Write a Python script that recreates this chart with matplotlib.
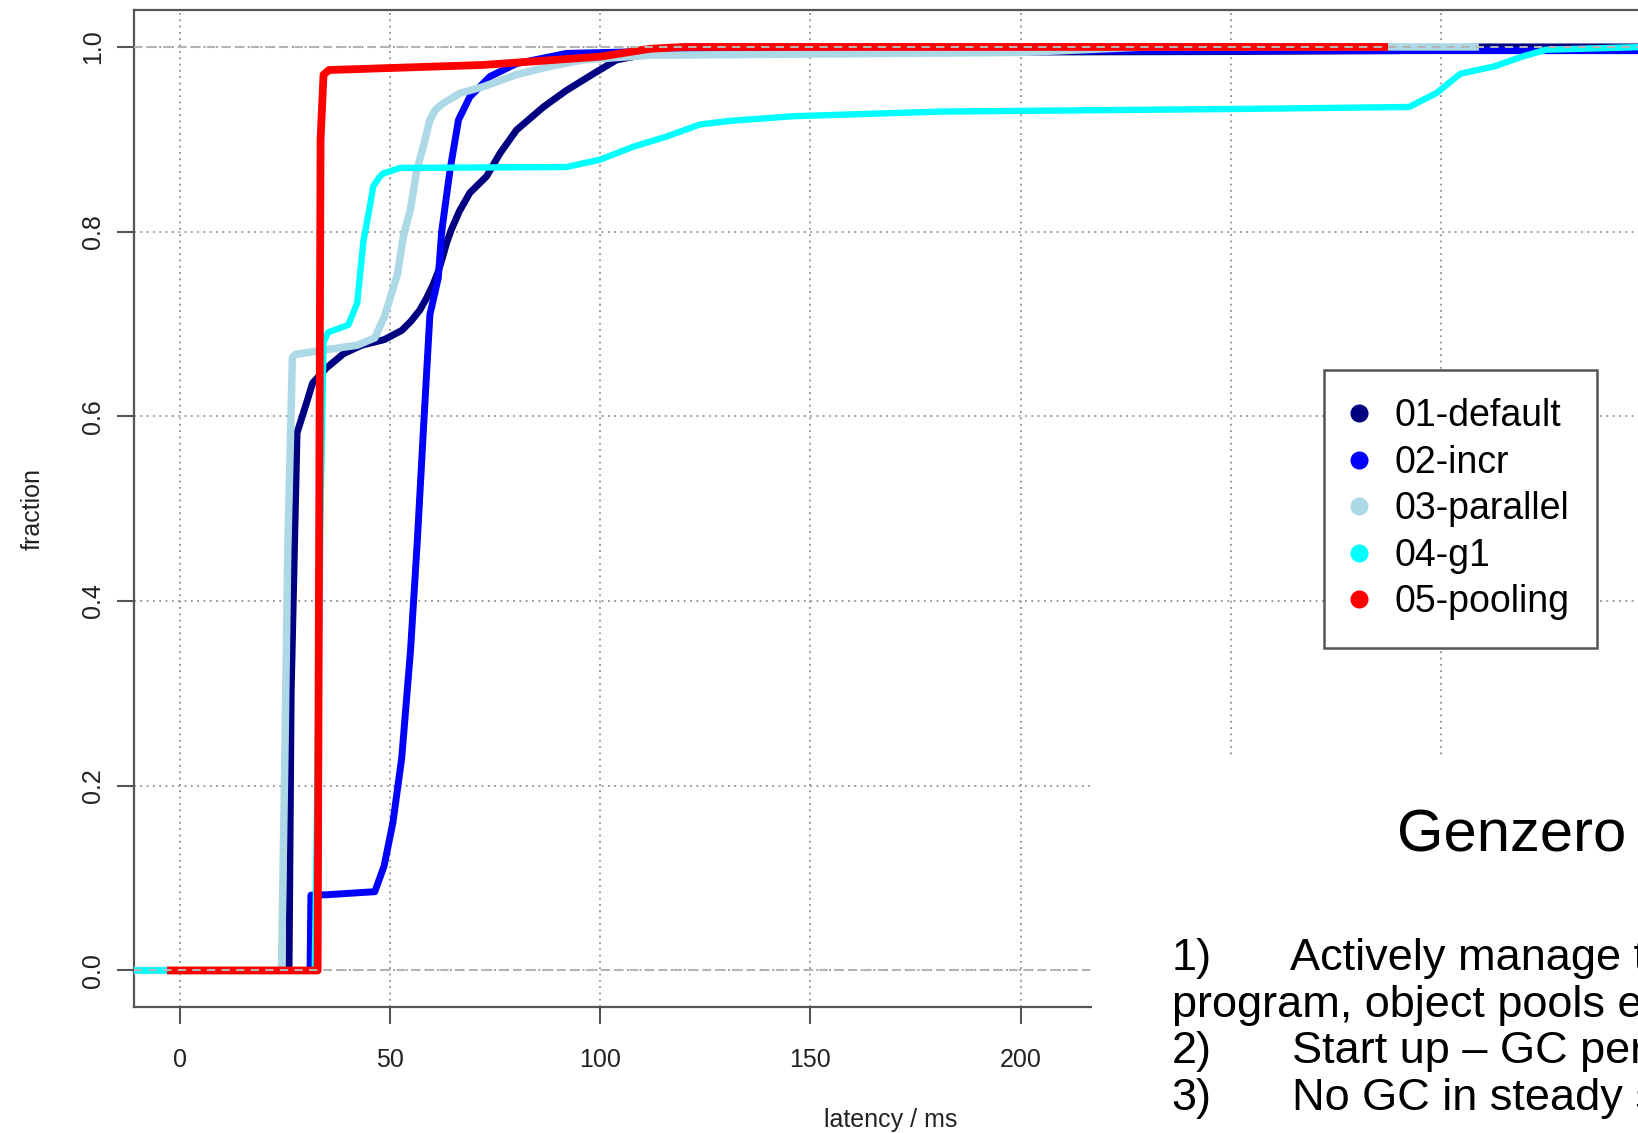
import matplotlib
matplotlib.use("Agg")
import matplotlib.pyplot as plt
from matplotlib.lines import Line2D
from matplotlib.patches import Rectangle

plt.rcParams['font.family'] = ['Liberation Sans', 'DejaVu Sans']

# ---------------- data ----------------
series_names = ["01-default", "02-incr", "03-parallel", "04-g1", "05-pooling"]
series_colors = ["#000080", "#0000ff", "#add8e6", "#00ffff", "#ff0000"]

x01 = [-3, 26.0, 26.5, 27.9, 29.5, 31.6, 34.8, 39.0, 43.3, 48.6, 52.8, 55.0, 57.1, 58.7, 60.2,
       61.5, 62.5, 63.5, 64.5, 66.5, 69.0, 73.0, 76.2, 80.1, 86.5, 92.0, 98.4, 103.9, 111.9,
       150, 250, 290, 300, 308.7, 349]
y01 = [0, 0, 0.30, 0.582, 0.605, 0.636, 0.652, 0.668, 0.677, 0.683, 0.693, 0.703, 0.715, 0.728,
       0.742, 0.757, 0.772, 0.788, 0.801, 0.822, 0.842, 0.860, 0.885, 0.910, 0.935, 0.953, 0.971,
       0.986, 0.993, 0.994, 0.995, 0.996, 0.998, 1.0, 1.0]

x02 = [-3, 31.0, 31.2, 35, 46.4, 48.6, 50.7, 52.8, 54.9, 56.5, 58.1, 59.5, 61.5, 62.3, 64.3,
       66.3, 69.0, 73.8, 80.1, 92.0, 120, 349]
y02 = [0, 0, 0.0815, 0.082, 0.0853, 0.113, 0.160, 0.230, 0.347, 0.4645, 0.597, 0.71, 0.75,
       0.80, 0.867, 0.921, 0.946, 0.968, 0.982, 0.993, 0.996, 0.996]

x03 = [-10.9, 24.2, 25.0, 25.7, 26.8, 27.5, 31.6, 42.2, 46.4, 48.6, 51.8, 53.2, 54.9, 56.4,
       58.1, 59.5, 60.8, 62.7, 66.7, 72.2, 80.1, 88.1, 96.0, 111.9, 200, 230, 309]
y03 = [0, 0, 0.230, 0.457, 0.664, 0.667, 0.670, 0.677, 0.685, 0.707, 0.754, 0.795, 0.825,
       0.867, 0.895, 0.921, 0.932, 0.939, 0.950, 0.957, 0.970, 0.979, 0.986, 0.991, 0.994,
       1.0, 1.0]

x04 = [-10.9, 32.1, 32.6, 33.5, 34.2, 35.3, 40.1, 42.2, 43.7, 45.4, 46.0, 47.5, 48.4, 52.4,
       92.0, 100.0, 107.9, 115.8, 123.7, 131, 146, 181, 255, 292.4, 298.9, 304.6, 312.7, 319.3,
       325, 349]
y04 = [0, 0, 0.15, 0.50, 0.680, 0.691, 0.699, 0.7226, 0.79, 0.832, 0.849, 0.859, 0.863, 0.869,
       0.870, 0.878, 0.892, 0.903, 0.916, 0.920, 0.925, 0.930, 0.933, 0.935, 0.950, 0.971, 0.979,
       0.9895, 0.997, 1.0]

x05 = [-3, 32.8, 33.1, 33.5, 34.2, 35.5, 72.2, 100, 111.9, 120, 287.4]
y05 = [0, 0, 0.40, 0.90, 0.970, 0.975, 0.9805, 0.9895, 0.998, 1.0, 1.0]

xs = [x01, x02, x03, x04, x05]
ys = [y01, y02, y03, y04, y05]
line_widths = [5.0, 5.0, 5.4, 4.6, 5.6]

x_ticks = [0, 50, 100, 150, 200, 250, 300]
y_ticks = [0.0, 0.2, 0.4, 0.6, 0.8, 1.0]
y_tick_labels = ["0.0", "0.2", "0.4", "0.6", "0.8", "1.0"]
x_label = "latency / ms"
y_label = "fraction"

slide_title = "Genzero"
list_numbers = ["1)", "2)", "3)"]
list_items = ["Actively manage the memory in the", "Start up \u2013 GC permitted", "No GC in steady state"]
list_continuation = "program, object pools etc."

# ---------------- figure ----------------
W, H = 1638, 1133
fig = plt.figure(figsize=(W / 100, H / 100), dpi=100)
ax = fig.add_axes([133.9 / W, 1 - 1007.4 / H, 1514 / W, 997.4 / H])
ax.set_xlim(-10.9, 349.2)
ax.set_ylim(-0.04, 1.04)

ax.set_axisbelow(True)
ax.grid(True, color="#909090", linestyle=(0, (1, 2.5)), linewidth=1.3)

for x, y, c, lw in zip(xs, ys, series_colors, line_widths):
    ax.plot(x, y, color=c, lw=lw, solid_joinstyle="round", solid_capstyle="butt", zorder=3)

for yv in (0.0, 1.0):
    ax.axhline(yv, color="#b4b4b4", linestyle=(0, (4, 3)), lw=1.5, zorder=4)

for s in ax.spines.values():
    s.set_color("#555555")
    s.set_linewidth(1.6)

ax.set_xticks(x_ticks)
ax.set_xticklabels([str(v) for v in x_ticks])
ax.set_yticks(y_ticks)
ax.set_yticklabels(y_tick_labels, rotation=90, va="center")
ax.tick_params(axis="both", direction="out", length=12, width=1.5, color="#555555",
               labelsize=18, labelcolor="#222222")
ax.tick_params(axis="x", pad=17)
ax.tick_params(axis="y", pad=9)
ax.set_xlabel(x_label, fontsize=18, labelpad=26, color="#222222")
ax.set_ylabel(y_label, fontsize=18, labelpad=26, color="#222222")

handles = [Line2D([0], [0], marker="o", linestyle="none", markersize=12,
                  markerfacecolor=c, markeredgecolor=c) for c in series_colors]
leg = ax.legend(handles, series_names, loc="upper left",
                bbox_to_anchor=(1324 / W, 1 - 370 / H), bbox_transform=fig.transFigure,
                borderaxespad=0, fontsize=27, borderpad=0.75, handlelength=0.35,
                handletextpad=0.77, labelspacing=0.28, fancybox=False, framealpha=1,
                edgecolor="#555555")
leg.get_frame().set_linewidth(1.8)
leg.set_zorder(6)

# white slide text box covering lower right of the chart
fig.add_artist(Rectangle((1092 / W, 0), 1 - 1092 / W, (H - 757) / H,
                         transform=fig.transFigure, facecolor="white",
                         edgecolor="none", zorder=10))

fig.text(1396.7 / W, 1 - 851.7 / H, slide_title, fontsize=43, va="baseline", ha="left",
         color="black", zorder=11)

fs_list = 32.5
num_x = 1171.7 / W
item_x = [1289.5 / W, 1291.7 / W, 1291.7 / W]
baselines = [970, 1063.3, 1110]
for num, item, bx, by in zip(list_numbers, list_items, item_x, baselines):
    fig.text(num_x, 1 - by / H, num, fontsize=fs_list, va="baseline", ha="left", zorder=11)
    fig.text(bx, 1 - by / H, item, fontsize=fs_list, va="baseline", ha="left", zorder=11)
fig.text(num_x, 1 - 1016.7 / H, list_continuation, fontsize=fs_list, va="baseline",
         ha="left", zorder=11)

fig.savefig("out.png", dpi=100)
